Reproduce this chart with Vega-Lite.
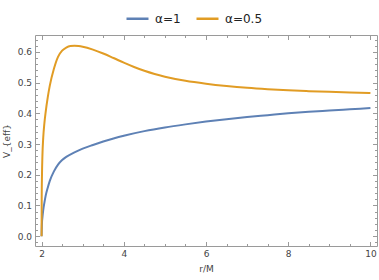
{
  "$schema": "https://vega.github.io/schema/vega-lite/v6.json",
  "width": 342,
  "height": 211,
  "autosize": {"type": "none"},
  "padding": {"left": 35, "top": 35, "right": 2, "bottom": 34},
  "config": {
    "view": {"stroke": "#9a9a9a", "strokeWidth": 1},
    "font": "DejaVu Sans",
    "axis": {"grid": false, "domain": false, "tickColor": "#9a9a9a", "labelColor": "#444444", "labelFont": "DejaVu Sans", "labelFontSize": 9, "titleFont": "DejaVu Sans", "titleFontSize": 9, "titleFontWeight": "normal", "titleColor": "#444444"}
  },
  "data": {"values": [
    {"r": 2, "V": 0, "s": "α=1"},
    {"r": 2.01, "V": 0.045, "s": "α=1"},
    {"r": 2.02, "V": 0.06, "s": "α=1"},
    {"r": 2.04, "V": 0.085, "s": "α=1"},
    {"r": 2.07, "V": 0.11, "s": "α=1"},
    {"r": 2.1, "V": 0.132, "s": "α=1"},
    {"r": 2.15, "V": 0.158, "s": "α=1"},
    {"r": 2.2, "V": 0.18, "s": "α=1"},
    {"r": 2.3, "V": 0.211, "s": "α=1"},
    {"r": 2.4, "V": 0.233, "s": "α=1"},
    {"r": 2.5, "V": 0.248, "s": "α=1"},
    {"r": 2.6, "V": 0.258, "s": "α=1"},
    {"r": 2.8, "V": 0.273, "s": "α=1"},
    {"r": 3.0, "V": 0.285, "s": "α=1"},
    {"r": 3.25, "V": 0.297, "s": "α=1"},
    {"r": 3.5, "V": 0.308, "s": "α=1"},
    {"r": 3.75, "V": 0.318, "s": "α=1"},
    {"r": 4.0, "V": 0.327, "s": "α=1"},
    {"r": 4.5, "V": 0.342, "s": "α=1"},
    {"r": 5.0, "V": 0.354, "s": "α=1"},
    {"r": 5.5, "V": 0.364, "s": "α=1"},
    {"r": 6.0, "V": 0.373, "s": "α=1"},
    {"r": 6.5, "V": 0.381, "s": "α=1"},
    {"r": 7.0, "V": 0.388, "s": "α=1"},
    {"r": 7.5, "V": 0.394, "s": "α=1"},
    {"r": 8.0, "V": 0.4, "s": "α=1"},
    {"r": 8.5, "V": 0.405, "s": "α=1"},
    {"r": 9.0, "V": 0.409, "s": "α=1"},
    {"r": 9.5, "V": 0.413, "s": "α=1"},
    {"r": 10, "V": 0.417, "s": "α=1"},
    {"r": 2, "V": 0, "s": "α=0.5"},
    {"r": 2.003, "V": 0.12, "s": "α=0.5"},
    {"r": 2.01, "V": 0.2, "s": "α=0.5"},
    {"r": 2.02, "V": 0.26, "s": "α=0.5"},
    {"r": 2.04, "V": 0.32, "s": "α=0.5"},
    {"r": 2.07, "V": 0.37, "s": "α=0.5"},
    {"r": 2.1, "V": 0.405, "s": "α=0.5"},
    {"r": 2.15, "V": 0.452, "s": "α=0.5"},
    {"r": 2.2, "V": 0.49, "s": "α=0.5"},
    {"r": 2.3, "V": 0.545, "s": "α=0.5"},
    {"r": 2.4, "V": 0.584, "s": "α=0.5"},
    {"r": 2.5, "V": 0.604, "s": "α=0.5"},
    {"r": 2.6, "V": 0.614, "s": "α=0.5"},
    {"r": 2.7, "V": 0.619, "s": "α=0.5"},
    {"r": 2.8, "V": 0.62, "s": "α=0.5"},
    {"r": 2.9, "V": 0.619, "s": "α=0.5"},
    {"r": 3.0, "V": 0.6168, "s": "α=0.5"},
    {"r": 3.25, "V": 0.6074, "s": "α=0.5"},
    {"r": 3.5, "V": 0.5948, "s": "α=0.5"},
    {"r": 3.75, "V": 0.58, "s": "α=0.5"},
    {"r": 4.0, "V": 0.5648, "s": "α=0.5"},
    {"r": 4.25, "V": 0.5507, "s": "α=0.5"},
    {"r": 4.5, "V": 0.5384, "s": "α=0.5"},
    {"r": 4.75, "V": 0.528, "s": "α=0.5"},
    {"r": 5.0, "V": 0.5193, "s": "α=0.5"},
    {"r": 5.5, "V": 0.506, "s": "α=0.5"},
    {"r": 6.0, "V": 0.4965, "s": "α=0.5"},
    {"r": 6.5, "V": 0.489, "s": "α=0.5"},
    {"r": 7.0, "V": 0.483, "s": "α=0.5"},
    {"r": 7.5, "V": 0.4785, "s": "α=0.5"},
    {"r": 8.0, "V": 0.475, "s": "α=0.5"},
    {"r": 8.5, "V": 0.4722, "s": "α=0.5"},
    {"r": 9.0, "V": 0.4699, "s": "α=0.5"},
    {"r": 9.5, "V": 0.468, "s": "α=0.5"},
    {"r": 10, "V": 0.4664, "s": "α=0.5"}
  ]},
  "layer": [
    {
      "mark": {"type": "line", "opacity": 0},
      "encoding": {
        "x": {"field": "r", "type": "quantitative", "scale": {"domain": [1.84, 10.16], "nice": false, "zero": false},
              "axis": {"orient": "bottom", "values": [2,2.5,3,3.5,4,4.5,5,5.5,6,6.5,7,7.5,8,8.5,9,9.5,10], "tickSize": -2.5, "labels": false, "title": null}},
        "y": {"field": "V", "type": "quantitative", "scale": {"domain": [-0.032, 0.655], "nice": false, "zero": false},
              "axis": {"orient": "left", "values": [-0.02,0,0.02,0.04,0.06,0.08,0.1,0.12,0.14,0.16,0.18,0.2,0.22,0.24,0.26,0.28,0.3,0.32,0.34,0.36,0.38,0.4,0.42,0.44,0.46,0.48,0.5,0.52,0.54,0.56,0.58,0.6,0.62,0.64], "tickSize": -2.5, "labels": false, "title": null}},
        "detail": {"field": "s"}
      }
    },
    {
      "mark": {"type": "line", "opacity": 0},
      "encoding": {
        "x": {"field": "r", "type": "quantitative",
              "axis": {"orient": "top", "values": [2,2.5,3,3.5,4,4.5,5,5.5,6,6.5,7,7.5,8,8.5,9,9.5,10], "tickSize": -2.5, "labels": false, "title": null}},
        "y": {"field": "V", "type": "quantitative",
              "axis": {"orient": "right", "values": [-0.02,0,0.02,0.04,0.06,0.08,0.1,0.12,0.14,0.16,0.18,0.2,0.22,0.24,0.26,0.28,0.3,0.32,0.34,0.36,0.38,0.4,0.42,0.44,0.46,0.48,0.5,0.52,0.54,0.56,0.58,0.6,0.62,0.64], "tickSize": -2.5, "labels": false, "title": null}},
        "detail": {"field": "s"}
      }
    },
    {
      "mark": {"type": "line", "opacity": 0},
      "encoding": {
        "x": {"field": "r", "type": "quantitative",
              "axis": {"orient": "top", "values": [2,4,6,8,10], "tickSize": -4.5, "labels": false, "title": null}},
        "y": {"field": "V", "type": "quantitative",
              "axis": {"orient": "right", "values": [0,0.1,0.2,0.3,0.4,0.5,0.6], "tickSize": -4.5, "labels": false, "title": null}},
        "detail": {"field": "s"}
      }
    },
    {
      "mark": {"type": "line", "strokeWidth": 2, "interpolate": "monotone"},
      "encoding": {
        "x": {"field": "r", "type": "quantitative",
              "axis": {"orient": "bottom", "values": [2,4,6,8,10], "tickSize": -4.5, "labelPadding": 8, "title": "r/M", "titlePadding": 6}},
        "y": {"field": "V", "type": "quantitative",
              "axis": {"orient": "left", "values": [0,0.1,0.2,0.3,0.4,0.5,0.6], "format": ".1f", "tickSize": -4.5, "labelPadding": 8, "title": "V_{eff}", "titlePadding": 6}},
        "color": {"field": "s", "type": "nominal", "scale": {"domain": ["α=1", "α=0.5"], "range": ["#5E81B5", "#E19C24"]},
                  "legend": {"orient": "none", "legendX": 90, "legendY": -29, "direction": "horizontal", "title": null, "symbolType": "stroke", "symbolSize": 484, "symbolStrokeWidth": 2.5, "labelFontSize": 12, "labelColor": "#222222", "labelFont": "DejaVu Sans", "columnPadding": 10, "labelOffset": 5, "padding": 0}}
      }
    }
  ],
  "resolve": {"axis": {"x": "independent", "y": "independent"}}
}
